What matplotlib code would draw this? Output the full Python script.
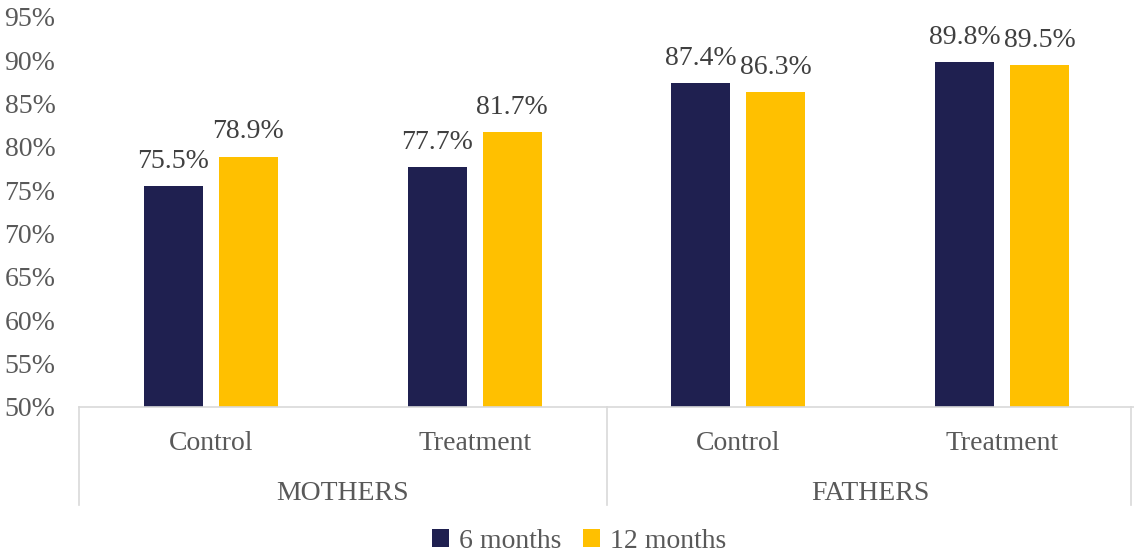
import matplotlib.pyplot as plt
import numpy as np

# ── Data ───────────────────────────────────────────────────
groups = ['MOTHERS', 'FATHERS']
arms = ['Control', 'Treatment', 'Control', 'Treatment']
six_months = [75.5, 77.7, 87.4, 89.8]
twelve_months = [78.9, 81.7, 86.3, 89.5]
yticks = [50, 55, 60, 65, 70, 75, 80, 85, 90, 95]

navy = '#1F2050'
gold = '#FFC000'
grey_txt = '#595959'
grey_line = '#D9D9D9'
fs = 20

plt.rcParams['font.family'] = ['Liberation Serif', 'DejaVu Serif']

fig = plt.figure(figsize=(11.34, 5.54), dpi=100)
ax = fig.add_axes([79 / 1134, 1 - 407 / 554, 1 - 79 / 1134, (407 - 17) / 554])

x = np.arange(len(arms))
w = 0.224
gap = 0.06
b1 = ax.bar(x - (w + gap) / 2, np.array(six_months) - 50, w, bottom=50,
            color=navy, label='6 months', zorder=2)
b2 = ax.bar(x + (w + gap) / 2, np.array(twelve_months) - 50, w, bottom=50,
            color=gold, label='12 months', zorder=2)

for bars, vals in ((b1, six_months), (b2, twelve_months)):
    for r, v in zip(bars, vals):
        ax.text(r.get_x() + r.get_width() / 2, v + 1.4, f'{v:.1f}%',
                ha='center', va='bottom', fontsize=fs, color='#404040')

ax.set_xlim(-0.5, len(arms) - 0.5)
ax.set_ylim(50, 95)
ax.set_yticks(yticks)
ax.set_yticklabels([f'{t}%' for t in yticks])
ax.tick_params(axis='y', length=0, labelsize=fs, labelcolor=grey_txt, pad=17)
ax.set_xticks([])

for s in ('top', 'right', 'left'):
    ax.spines[s].set_visible(False)
ax.spines['bottom'].set_color(grey_line)
ax.spines['bottom'].set_linewidth(1.2)

# ── Two-level category axis ────────────────────────────────
trans = ax.get_xaxis_transform()
for xs in (-0.5, 1.5, 3.49):
    ax.plot([xs, xs], [0, -98 / 390], transform=trans, color=grey_line,
            lw=1.2, clip_on=False)
for xi, lab in zip(x, arms):
    ax.text(xi, -36 / 390, lab, transform=trans, ha='center', va='center',
            fontsize=fs, color=grey_txt)
for gi, g in enumerate(groups):
    ax.text(gi * 2 + 0.5, -86 / 390, g, transform=trans, ha='center',
            va='center', fontsize=fs, color=grey_txt)

leg = fig.legend(handles=[b1, b2], loc='center', bbox_to_anchor=(579 / 1134, 1 - 541 / 554),
                 ncol=2, frameon=False, fontsize=fs, handlelength=0.6,
                 handleheight=0.6, handletextpad=0.35, columnspacing=0.8)
for t in leg.get_texts():
    t.set_color(grey_txt)

plt.savefig('out.png', dpi=100)
